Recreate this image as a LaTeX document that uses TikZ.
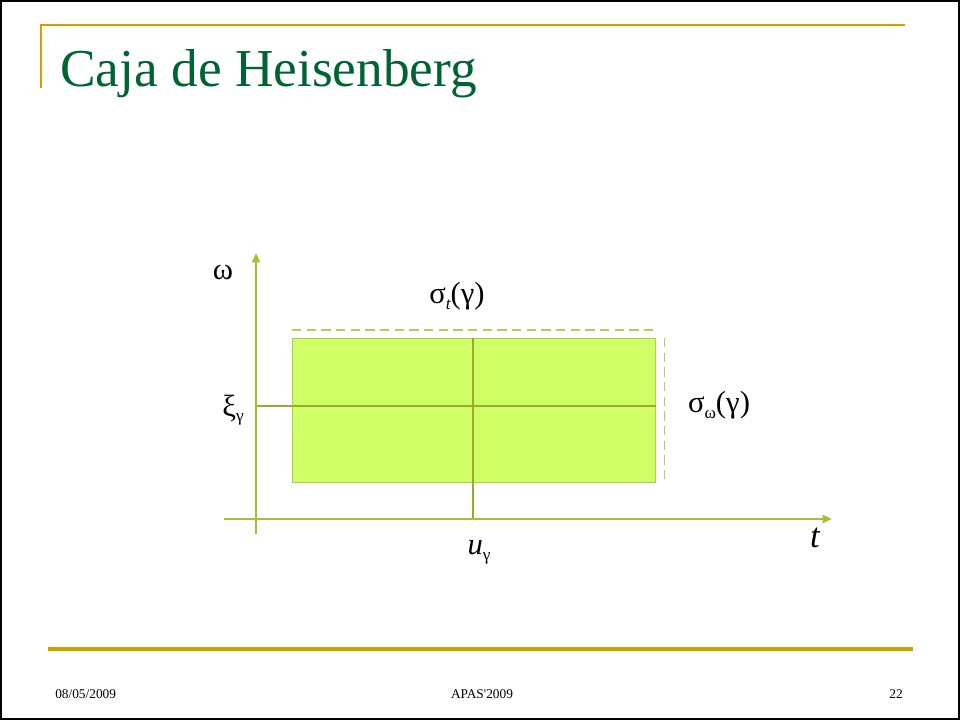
\documentclass[tikz,border=0pt]{standalone}
\usepackage{fontspec}
\setmainfont{Liberation Serif}
\usetikzlibrary{arrows.meta}
\definecolor{gold}{RGB}{212,160,0}
\definecolor{titlegreen}{RGB}{0,100,50}
\definecolor{axisc}{RGB}{170,190,50}
\definecolor{boxfill}{RGB}{207,255,100}
\definecolor{boxline}{RGB}{178,204,78}
\tikzset{
  axisline/.style={draw=axisc,line width=1.6pt,-{Triangle[length=7pt,width=6pt]}},
  guide/.style={draw=axisc!90!black,line width=1.5pt},
  dashline/.style={draw=axisc!80,line width=1.2pt,dash pattern=on 7pt off 4pt},
  lbl/.style={font=\fontsize{23}{27}\selectfont,inner sep=0pt},
  foot/.style={font=\fontsize{10}{12}\selectfont,inner sep=0pt}
}
\newcommand{\subsc}[1]{\raisebox{-0.4ex}{\fontsize{13}{15}\selectfont #1}}
\begin{document}
\begin{tikzpicture}[x=0.75pt,y=-0.75pt]
\useasboundingbox (0,0) rectangle (960,720);
\draw[black,line width=2pt] (1,1) rectangle (959,719);
% title decorations
\draw[gold,line width=1.5pt] (41,88) -- (41,25) -- (905,25);
\node[anchor=base west,text=titlegreen,font=\fontsize{40}{46}\selectfont,inner sep=0pt] (title) at (60,87) {Caja de Heisenberg};
\draw[gold,line width=2.4pt] (48,649) -- (913,649);
% footer
\node[foot,anchor=base west] (date) at (55,698) {08/05/2009};
\node[foot,anchor=base] (conf) at (482,698) {APAS\textquotesingle2009};
\node[foot,anchor=base east] (page) at (903,698) {22};
% coordinates
\coordinate (yb) at (256,534);
\coordinate (yt) at (256,253);
\coordinate (xl) at (224,519);
\coordinate (xr) at (832,519);
% box
\node[draw=boxline,fill=boxfill,line width=1pt,minimum width=363*0.75pt,minimum height=144*0.75pt,inner sep=0pt,anchor=north west] (box) at (292,338) {};
\coordinate (uaxis) at (473,519);
\coordinate (xiaxis) at (256,406);
\draw[guide] (box.north -| uaxis) -- (uaxis);
\draw[guide] (xiaxis) -- (xiaxis -| box.east);
% dashed extents
\draw[dashline] (box.north west) ++(0,-8) coordinate (dtl) -- (dtl -| box.north east);
\draw[dashline] (box.north east) ++(8,0) coordinate (drt) -- (drt |- box.south east);
% axes
\draw[axisline] (yb) -- (yt);
\draw[axisline] (xl) -- (xr);
% labels
\node[lbl] (omega) at (223,272) {ω};
\node[lbl] (sigt) at (457,296) {σ\subsc{\itshape t}(γ)};
\node[lbl] (xi) at (233,410) {ξ\subsc{γ}};
\node[lbl] (sigw) at (719,405) {σ\subsc{ω}(γ)};
\node[lbl,font=\fontsize{26}{30}\selectfont\itshape] (tl) at (815,538) {t};
\node[lbl] (u) at (479,552) {\itshape u\subsc{\upshape γ}};
\end{tikzpicture}
\end{document}
